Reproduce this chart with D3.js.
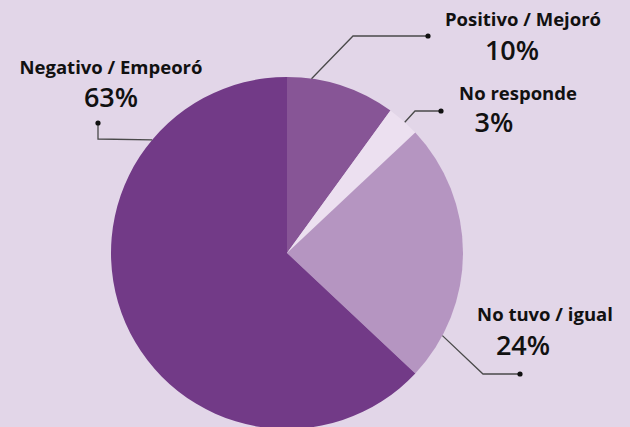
<!DOCTYPE html>
<html>
<head>
<meta charset="utf-8">
<script src="https://cdn.jsdelivr.net/npm/d3@7"></script>
<style>
  body { margin: 0; background: #e2d6e8; }
  svg { display: block; }
  .lbl { font-family: "Open Sans", Lato, sans-serif; font-weight: 700; fill: #111; }
</style>
</head>
<body>
<svg id="chart" width="630" height="427"></svg>
<script>
// data
var categories = ["Positivo / Mejoró", "No responde", "No tuvo / igual", "Negativo / Empeoró"];
var values = [10, 3, 24, 63];
var colors = ["#875596", "#ece0f0", "#b595c1", "#723a87"];

// layout of the call-outs (anchor angle on the rim, elbow, dot, text)
var callouts = [
  {angle: 8,   elbow: [353, 36],  dot: [428, 36],  lx: 523, ly: 26,  px: 512, py: 60},
  {angle: 42,  elbow: [415, 111], dot: [441, 111], lx: 518, ly: 100, px: 494, py: 132},
  {angle: 118, elbow: [483, 374], dot: [520, 374], lx: 545, ly: 321, px: 523, py: 355},
  {angle: 310, elbow: [98, 139],  dot: [98, 123],  lx: 111, ly: 74,  px: 111, py: 107}
];

var svg = d3.select("#chart");
var cx = 287, cy = 253, radius = 176;

svg.append("rect").attr("width", 630).attr("height", 427).attr("fill", "#e2d6e8");

var pie = d3.pie().sort(null).value(function(d) { return d; });
var arc = d3.arc().innerRadius(0).outerRadius(radius);

var g = svg.append("g").attr("transform", "translate(" + cx + "," + cy + ")");

g.selectAll("path.slice")
  .data(pie(values))
  .enter().append("path")
    .attr("class", "slice")
    .attr("d", arc)
    .attr("fill", function(d, i) { return colors[i]; });

// leader lines
var lines = svg.append("g");
callouts.forEach(function(c, i) {
  var a = c.angle * Math.PI / 180;
  var sx = cx + radius * Math.sin(a), sy = cy - radius * Math.cos(a);
  lines.append("polyline")
    .attr("points", [[sx, sy], c.elbow, c.dot].map(function(p) { return p.join(","); }).join(" "))
    .attr("fill", "none")
    .attr("stroke", "#4a4a4a")
    .attr("stroke-width", 1.3);
  lines.append("circle")
    .attr("cx", c.dot[0]).attr("cy", c.dot[1])
    .attr("r", 2.6).attr("fill", "#111");

  svg.append("text")
    .attr("class", "lbl")
    .attr("x", c.lx).attr("y", c.ly)
    .attr("text-anchor", "middle")
    .style("font-size", "18.5px")
    .text(categories[i]);
  svg.append("text")
    .attr("class", "lbl")
    .attr("x", c.px).attr("y", c.py)
    .attr("text-anchor", "middle")
    .style("font-size", "27px")
    .style("font-weight", 600)
    .text(values[i] + "%");
});
</script>
</body>
</html>
